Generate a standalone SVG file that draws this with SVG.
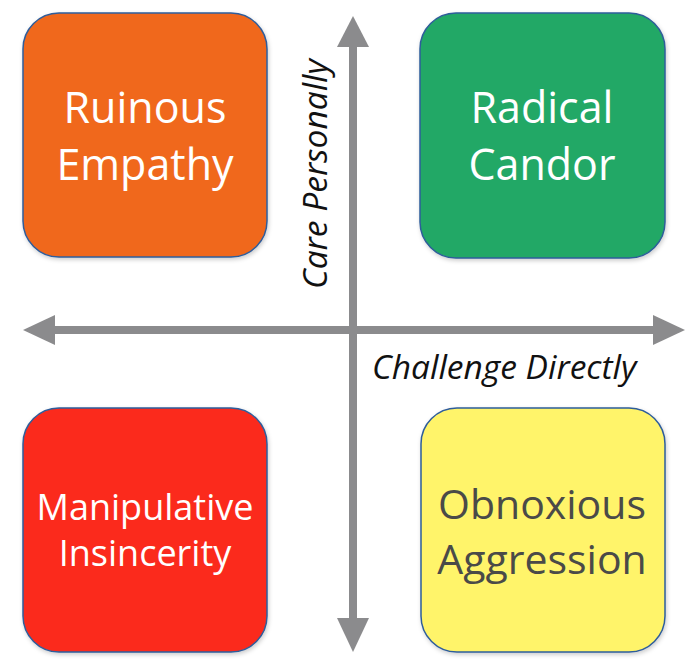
<svg xmlns="http://www.w3.org/2000/svg" width="689" height="669" viewBox="0 0 689 669">
<defs>
<filter id="sh" x="-10%" y="-10%" width="120%" height="120%">
<feDropShadow dx="1" dy="2" stdDeviation="2" flood-color="#000" flood-opacity="0.2"/>
</filter>
</defs>
<style>
.box{stroke:#2e5d9a;stroke-width:1.5;filter:url(#sh)}
.lbl{font-family:"Open Sans","Noto Sans",sans-serif;text-anchor:middle}
.w{fill:#ffffff}
.axis{fill:#8b8b8d}
.ax{font-family:"Open Sans","Noto Sans",sans-serif;font-style:italic;font-size:33.5px;fill:#111}
</style>
<g id="connectors">
<rect class="axis" x="349" y="45" width="8" height="575"/>
<polygon class="axis" points="353,16 337,47 369,47"/>
<polygon class="axis" points="353,652 337,618 369,618"/>
<rect class="axis" x="53" y="326" width="601" height="8"/>
<polygon class="axis" points="23,330 55,315 55,345"/>
<polygon class="axis" points="685,330 653,315 653,345"/>
</g>
<g id="ruinous-empathy">
<rect class="box" x="23" y="13" width="244" height="244" rx="36" fill="#f0681f"/>
<text class="lbl w" x="145" y="123" font-size="43">Ruinous</text>
<text class="lbl w" x="145" y="180" font-size="43">Empathy</text>
</g>
<g id="radical-candor">
<rect class="box" x="420" y="13" width="245" height="245" rx="36" fill="#20a866"/>
<text class="lbl w" x="542" y="123" font-size="43">Radical</text>
<text class="lbl w" x="542" y="180" font-size="43">Candor</text>
</g>
<g id="manipulative-insincerity">
<rect class="box" x="23" y="408" width="244" height="244" rx="36" fill="#fb2a1f"/>
<text class="lbl w" x="145" y="520" font-size="36">Manipulative</text>
<text class="lbl w" x="145" y="566" font-size="36">Insincerity</text>
</g>
<g id="obnoxious-aggression">
<rect class="box" x="421" y="408" width="244" height="244" rx="36" fill="#fff46b"/>
<text class="lbl" x="542" y="519" font-size="41" fill="#4a4a48">Obnoxious</text>
<text class="lbl" x="542" y="574" font-size="41" fill="#4a4a48">Aggression</text>
</g>
<g id="axis-labels">
<text class="ax" transform="translate(327,174) rotate(-90)" text-anchor="middle">Care Personally</text>
<text class="ax" x="372" y="379">Challenge Directly</text>
</g>
</svg>
